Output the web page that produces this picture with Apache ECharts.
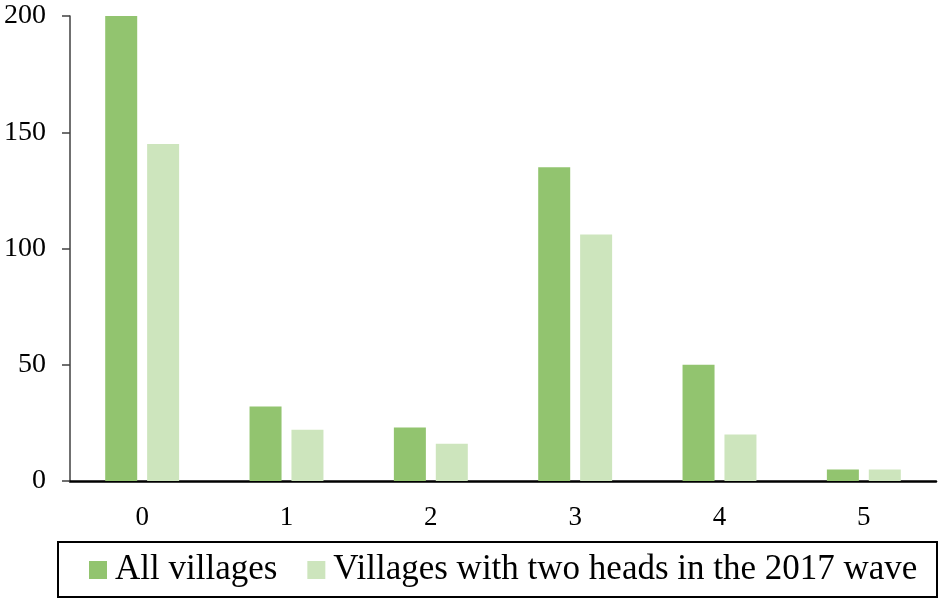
<!DOCTYPE html>
<html>
<head>
<meta charset="utf-8">
<style>
  html, body { margin: 0; padding: 0; background: #fff; }
  #chart { width: 942px; height: 599px; }
</style>
<script src="https://cdn.jsdelivr.net/npm/echarts@6/dist/echarts.min.js"></script>
</head>
<body>
<div id="chart"></div>
<script>
// Number of heads per village, two groups of villages
const categories = ['0', '1', '2', '3', '4', '5'];
const allVillages = [200, 32, 23, 135, 50, 5];
const twoHeadVillages = [145, 22, 16, 106, 20, 5];
const seriesNames = ['All villages', 'Villages with two heads in the 2017 wave'];
const yTicks = [0, 50, 100, 150, 200];

const serif = '"Liberation Serif", "Times New Roman", serif';
const chart = echarts.init(document.getElementById('chart'), null, { renderer: 'canvas' });

chart.setOption({
  animation: false,
  backgroundColor: '#ffffff',
  textStyle: { fontFamily: serif },
  grid: { left: 70, right: 6, top: 16, bottom: 118, containLabel: false },
  xAxis: {
    type: 'category',
    data: categories,
    axisLine: { show: true, lineStyle: { color: '#000000', width: 2.5 } },
    axisTick: { show: false },
    axisLabel: { color: '#000000', fontSize: 27, fontFamily: serif, margin: 23 },
    splitLine: { show: false }
  },
  yAxis: {
    type: 'value',
    min: yTicks[0],
    max: yTicks[yTicks.length - 1],
    interval: yTicks[1] - yTicks[0],
    axisLine: { show: true, lineStyle: { color: '#404040', width: 1.5 } },
    axisTick: { show: true, inside: false, length: 8, lineStyle: { color: '#404040', width: 1.5 } },
    axisLabel: { color: '#000000', fontSize: 28, fontFamily: serif, margin: 24 },
    splitLine: { show: false }
  },
  legend: {
    data: seriesNames,
    left: 89,
    top: 551,
    itemWidth: 18,
    itemHeight: 18,
    itemGap: 30,
    icon: 'rect',
    padding: 0,
    textStyle: { color: '#000000', fontSize: 35, fontFamily: serif, lineHeight: 38, padding: [0, 0, 0, 3] }
  },
  graphic: [{
    type: 'rect',
    shape: { x: 58, y: 542, width: 879, height: 55 },
    style: { fill: 'none', stroke: '#000000', lineWidth: 2 },
    silent: true
  }],
  series: [
    {
      name: seriesNames[0],
      type: 'bar',
      data: allVillages,
      barWidth: 32,
      barGap: '31%',
      itemStyle: { color: '#92C46F' }
    },
    {
      name: seriesNames[1],
      type: 'bar',
      data: twoHeadVillages,
      barWidth: 32,
      itemStyle: { color: '#CDE5BD' }
    }
  ]
});
</script>
</body>
</html>
